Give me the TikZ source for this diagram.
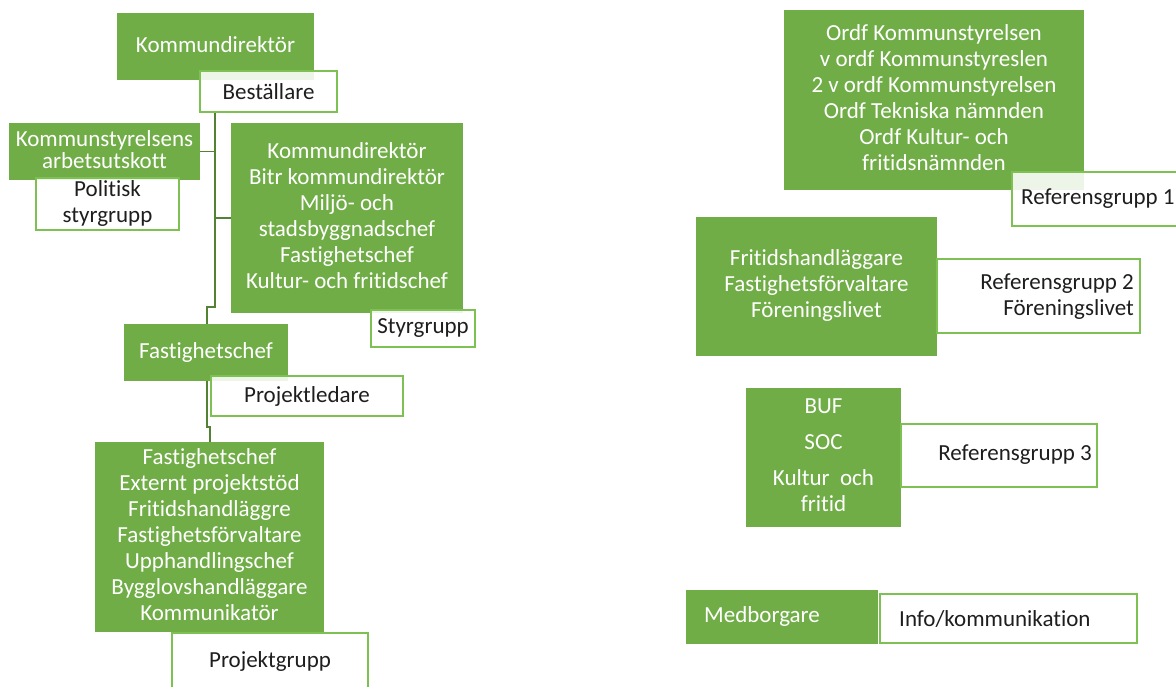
\documentclass[tikz,border=0pt]{standalone}
\usepackage{fontspec}
\setmainfont{Carlito}[Ligatures=NoCommon]
\definecolor{boxgreen}{HTML}{70AD47}
\definecolor{edgegreen}{HTML}{7DC152}
\definecolor{linegreen}{HTML}{548235}
\definecolor{darktext}{HTML}{1E1E1E}
\tikzset{
  greenbox/.style={fill=boxgreen, draw=none, text=white, align=center, inner sep=0pt, font=\fontsize{23}{26}\selectfont},
  whitebox/.style={fill=white, fill opacity=0.88, text opacity=1, draw=edgegreen, line width=1.6pt, text=darktext, align=center, inner sep=0pt, font=\fontsize{23}{26}\selectfont},
  plaintext/.style={inner sep=0pt, font=\fontsize{23}{26}\selectfont},
  conn/.style={draw=linegreen, line width=1.4pt}
}
\newcommand{\gbox}[6]{% name, x1, y1, x2, y2, text
  \node[greenbox, minimum width={#4-#2}, minimum height={#5-#3}] (#1) at ({(#2+#4)/2},{(#3+#5)/2}) {#6};}
\newcommand{\wbox}[6]{%
  \node[whitebox, minimum width={#4-#2}, minimum height={#5-#3}] (#1) at ({(#2+#4)/2},{(#3+#5)/2}) {#6};}
\begin{document}
\begin{tikzpicture}[x=1pt,y=-1pt]
\useasboundingbox (0,0) rectangle (1176,686);
\begin{scope}
\clip (0,0) rectangle (1176,686);
% connector waypoints
\coordinate (c0) at (215,112);
\coordinate (c1) at (215,307);
\coordinate (c2) at (207,307);
\coordinate (c3) at (207,427);
\coordinate (c4) at (210,427);
% green boxes left
\gbox{kd}{117}{13}{314}{80}{\raisebox{3pt}{Kommundirektör}}
\gbox{ksau}{9}{123}{200}{180}{\raisebox{4pt}{\shortstack{Kommunstyrelsens\\arbetsutskott}}}
\gbox{sg}{231}{123}{463}{313}{\raisebox{3pt}{\begin{tabular}{@{}c@{}}Kommundirektör\\Bitr kommundirektör\\Miljö- och\\stadsbyggnadschef\\Fastighetschef\\Kultur- och fritidschef\end{tabular}}}
\gbox{fc}{124}{324}{288}{381}{\raisebox{4pt}{Fastighetschef}}
\gbox{pg}{95}{442}{324}{632}{\raisebox{3pt}{\begin{tabular}{@{}c@{}}Fastighetschef\\Externt projektstöd\\Fritidshandläggre\\Fastighetsförvaltare\\Upphandlingschef\\Bygglovshandläggare\\Kommunikatör\end{tabular}}}
% connectors drawn under white boxes
\draw[conn] (c0) |- (ksau.east);
\draw[conn] (c0) |- (sg.west);
\draw[conn] (c0) -- (c1) -- (c2) -- (fc.north -| c2);
\draw[conn] (fc.south -| c2) -- (c3) -- (c4) -- (pg.north -| c4);
% white boxes left
\wbox{best}{200}{71}{337}{112}{Beställare}
\wbox{pol}{36}{178}{179}{230}{\begin{tabular}{@{}c@{}}Politisk\\styrgrupp\end{tabular}}
\wbox{styr}{371}{310}{475}{347}{Styrgrupp}
\wbox{pl}{211}{376}{403}{416}{\raisebox{2pt}{Projektledare}}
\wbox{pgw}{172}{633}{368}{695}{\raisebox{9pt}{Projektgrupp}}
% right column
\gbox{ordf}{784}{10}{1084}{190}{\raisebox{4pt}{\begin{tabular}{@{}c@{}}Ordf Kommunstyrelsen\\v ordf Kommunstyreslen\\2 v ordf Kommunstyrelsen\\Ordf Tekniska nämnden\\Ordf Kultur- och\\fritidsnämnden\end{tabular}}}
\wbox{ref1}{1012}{172}{1200}{226}{}
\node[plaintext, text=darktext, anchor=west] (ref1t) at (1021,199) {Referensgrupp 1};
\gbox{frit}{696}{217}{937}{356}{\raisebox{4pt}{\begin{tabular}{@{}c@{}}Fritidshandläggare\\Fastighetsförvaltare\\Föreningslivet\end{tabular}}}
\wbox{ref2}{937}{259}{1140}{333}{}
\node[plaintext, text=darktext, anchor=east] (ref2t) at (1134,297) {\begin{tabular}{@{}r@{}}Referensgrupp 2\\Föreningslivet\end{tabular}};
\gbox{buf}{746}{388}{901}{527}{\raisebox{2pt}{\begin{tabular}{@{}c@{}}BUF\\[10pt]SOC\\[10pt]Kultur\ \ och\\fritid\end{tabular}}}
\wbox{ref3}{901}{424}{1097}{487}{}
\node[plaintext, text=darktext, anchor=east] (ref3t) at (1092,455) {Referensgrupp 3};
\gbox{med}{686}{590}{878}{644}{}
\node[plaintext, text=white, anchor=west] (medt) at (704,616) {Medborgare};
\wbox{info}{880}{594}{1137}{643}{}
\node[plaintext, text=darktext, anchor=west] (infot) at (899,619) {Info/kommunikation};
\end{scope}
\end{tikzpicture}
\end{document}
